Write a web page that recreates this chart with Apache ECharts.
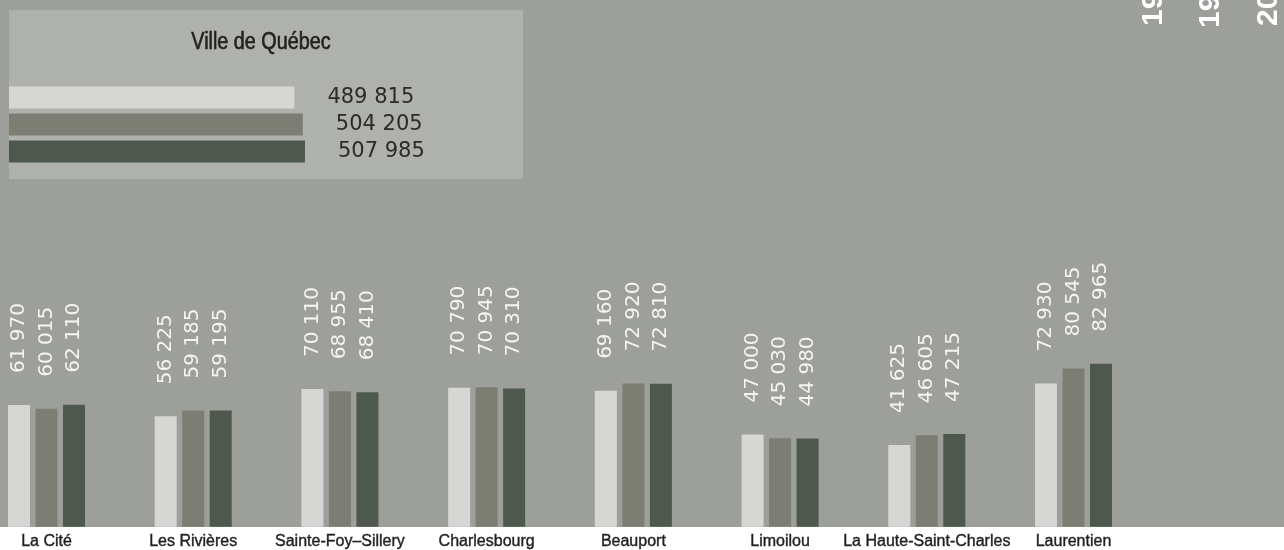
<!DOCTYPE html>
<html>
<head>
<meta charset="utf-8">
<title>Population par arrondissement — Ville de Québec</title>
<script src="https://cdn.jsdelivr.net/npm/echarts@6/dist/echarts.min.js"></script>
<style>
  html, body { margin: 0; padding: 0; background: #ffffff; }
  #chart { width: 1284px; height: 550px; }
</style>
</head>
<body>
<div id="chart"></div>
<script>
// Arrondissements and population for three census years
const districts = ['La Cité', 'Les Rivières', 'Sainte-Foy–Sillery', 'Charlesbourg',
                   'Beauport', 'Limoilou', 'La Haute-Saint-Charles', 'Laurentien'];
const years = ['1991', '1996', '2001'];
const pop1 = [61970, 56225, 70110, 70790, 69160, 47000, 41625, 72930];
const pop2 = [60015, 59185, 68955, 70945, 72920, 45030, 46605, 80545];
const pop3 = [62110, 59195, 68410, 70310, 72810, 44980, 47215, 82965];
// City totals, one per year
const cityName = 'Ville de Québec';
const cityTotals = [489815, 504205, 507985];

const colors = ['#d6d7d4', '#7c7e74', '#4e584d'];
const bg = '#9d9f9a';
const boxBg = '#afb1ac';
const ink = '#231f20';

function fmt(v) {
  return String(v).replace(/\B(?=(\d{3})+(?!\d))/g, ' ');
}

const chart = echarts.init(document.getElementById('chart'), null, { renderer: 'canvas' });

const barLabel = {
  show: true,
  position: 'top',
  rotate: 90,
  align: 'left',
  verticalAlign: 'middle',
  distance: 32,
  color: '#f4f4f2',
  fontFamily: 'DejaVu Sans',
  fontSize: 20,
  formatter: p => fmt(p.value)
};

const seriesData = [pop1, pop2, pop3];
const mainSeries = seriesData.map((d, i) => ({
  name: years[i],
  type: 'bar',
  xAxisIndex: 0,
  yAxisIndex: 0,
  data: d,
  barWidth: 22,
  barGap: '25%',
  itemStyle: { color: colors[i] },
  label: barLabel,
  silent: true,
  animation: false
}));

const option = {
  backgroundColor: '#ffffff',
  animation: false,
  grid: [
    { left: 46.5, right: 210.5, top: 0, bottom: 23, containLabel: false },
    { left: 9, top: 84, width: 349.6, height: 81, containLabel: false }
  ],
  xAxis: [
    {
      type: 'category',
      gridIndex: 0,
      data: districts,
      boundaryGap: false,
      axisLine: { show: false },
      axisTick: { show: false },
      splitLine: { show: false },
      axisLabel: {
        interval: 0,
        margin: 7,
        color: ink,
        fontFamily: 'Liberation Sans',
        fontSize: 16,
        textBorderColor: ink,
        textBorderWidth: 0.4
      }
    },
    {
      type: 'value',
      gridIndex: 1,
      min: 0,
      max: 600000,
      show: false
    }
  ],
  yAxis: [
    {
      type: 'value',
      gridIndex: 0,
      min: 0,
      max: 268000,
      show: false
    },
    {
      type: 'category',
      gridIndex: 1,
      data: years,
      inverse: true,
      show: false
    }
  ],
  graphic: [
    // plot background, leaving the white strip for district names
    { type: 'rect', z: -10, silent: true,
      shape: { x: 0, y: 0, width: 1284, height: 527 },
      style: { fill: bg } },
    // city total panel
    { type: 'rect', z: -5, silent: true,
      shape: { x: 9, y: 10, width: 514, height: 169 },
      style: { fill: boxBg } },
    // panel heading, condensed
    { type: 'text', z: 5, silent: true,
      x: 261, y: 43,
      scaleX: 0.86,
      style: {
        text: cityName,
        textAlign: 'center', textVerticalAlign: 'middle',
        fill: ink,
        stroke: ink,
        lineWidth: 0.6,
        font: '23px "Liberation Sans", sans-serif'
      } },
    // year keys, rotated, running off the top edge
    ...years.map((y, i) => ({
      type: 'text', z: 5, silent: true,
      x: [1154, 1211, 1269][i], y: [26, 28, 26][i],
      rotation: Math.PI / 2,
      style: {
        text: y,
        textAlign: 'left', textVerticalAlign: 'middle',
        fill: '#ffffff',
        font: 'bold 30px "Liberation Sans", sans-serif'
      }
    }))
  ],
  series: [
    ...mainSeries,
    {
      name: cityName,
      type: 'bar',
      xAxisIndex: 1,
      yAxisIndex: 1,
      data: cityTotals.map((v, i) => ({ value: v, itemStyle: { color: colors[i] } })),
      barWidth: 22,
      silent: true,
      label: {
        show: true,
        position: 'right',
        distance: 33,
        color: '#2a2a2a',
        fontFamily: 'DejaVu Sans',
        fontSize: 21,
        formatter: p => fmt(p.value)
      }
    }
  ]
};

chart.setOption(option);
</script>
</body>
</html>
